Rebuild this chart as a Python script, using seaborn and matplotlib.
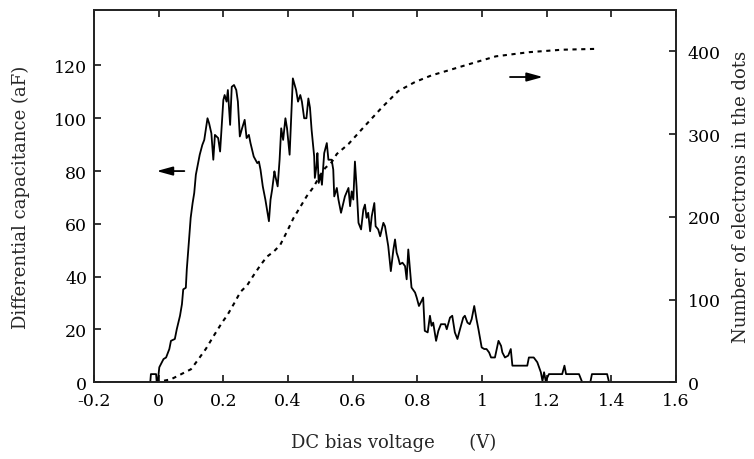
import numpy as np
import pandas as pd
import matplotlib
matplotlib.use("Agg")
import matplotlib.pyplot as plt
import seaborn as sns

# ---- data ----
cap_x = [-0.15, -0.026, -0.024, -0.008, -0.006, -0.003, 0.002, 0.015, 0.023, 0.033, 0.038, 0.050,
         0.056, 0.066, 0.072, 0.076, 0.084, 0.087, 0.091, 0.094, 0.099, 0.105, 0.110, 0.115,
         0.122, 0.127, 0.135, 0.141, 0.151, 0.156, 0.163, 0.169, 0.174, 0.184, 0.190, 0.195,
         0.200, 0.204, 0.210, 0.214, 0.221, 0.226, 0.233, 0.240, 0.245, 0.251, 0.258, 0.266,
         0.272, 0.279, 0.284, 0.294, 0.305, 0.310, 0.315, 0.322, 0.330, 0.341, 0.346, 0.351,
         0.358, 0.361, 0.368, 0.374, 0.379, 0.385, 0.392, 0.397, 0.405, 0.415, 0.425, 0.431,
         0.438, 0.443, 0.450, 0.457, 0.463, 0.468, 0.473, 0.481, 0.483, 0.488, 0.491, 0.495,
         0.501, 0.505, 0.512, 0.520, 0.525, 0.535, 0.540, 0.543, 0.551, 0.556, 0.564, 0.571,
         0.576, 0.587, 0.592, 0.597, 0.602, 0.607, 0.612, 0.618, 0.626, 0.633, 0.638, 0.643,
         0.648, 0.654, 0.659, 0.667, 0.671, 0.679, 0.685, 0.695, 0.700, 0.710, 0.718, 0.726,
         0.731, 0.736, 0.741, 0.746, 0.754, 0.762, 0.767, 0.772, 0.782, 0.793, 0.798, 0.805,
         0.813, 0.818, 0.823, 0.832, 0.839, 0.844, 0.849, 0.858, 0.865, 0.873, 0.886, 0.891,
         0.901, 0.908, 0.916, 0.924, 0.932, 0.942, 0.947, 0.955, 0.962, 0.968, 0.976, 0.983,
         0.989, 0.999, 1.007, 1.014, 1.022, 1.028, 1.040, 1.051, 1.059, 1.063, 1.071, 1.081,
         1.089, 1.094, 1.140, 1.145, 1.160, 1.171, 1.182, 1.187, 1.192, 1.197, 1.207, 1.248,
         1.255, 1.260, 1.300, 1.310, 1.335, 1.340, 1.387, 1.393]
cap_y = [0, 0, 3.1, 3.1, 0, 0, 5.7, 8.8, 9.4, 12.6, 15.7, 16.4,
         20.1, 25.2, 29.6, 35.2, 35.8, 42.8, 49.1, 54.1, 62.3, 67.9, 71.7, 78.6,
         83.0, 86.2, 89.9, 91.8, 100.0, 98.1, 94.3, 84.3, 93.7, 92.5, 87.4, 96.9,
         106.9, 108.8, 106.3, 110.7, 97.5, 111.9, 112.6, 110.7, 106.3, 93.1, 96.2, 99.4,
         92.5, 93.7, 90.6, 85.5, 83.0, 83.6, 80.5, 74.2, 69.2, 61.0, 69.2, 73.0,
         79.9, 78.0, 74.2, 84.3, 96.2, 91.8, 100.0, 96.2, 86.2, 115.1, 110.7, 106.3,
         108.8, 106.3, 100.0, 100.0, 107.5, 104.0, 95.6, 85.5, 77.4, 81.8, 86.8, 75.5,
         78.6, 74.8, 86.8, 90.6, 84.3, 84.3, 80.5, 70.4, 73.6, 69.2, 64.2, 67.9,
         70.4, 73.6, 66.7, 72.3, 69.2, 83.6, 74.2, 60.4, 57.9, 65.4, 67.3, 62.3,
         64.2, 57.2, 62.9, 67.9, 59.1, 57.9, 55.3, 60.4, 59.1, 51.6, 42.1, 50.3,
         54.1, 49.1, 47.2, 44.7, 45.3, 44.0, 39.0, 50.3, 35.9, 34.0, 32.1, 28.9,
         30.8, 32.1, 19.5, 18.9, 25.2, 21.4, 22.6, 15.7, 19.5, 22.0, 22.0, 20.1,
         24.5, 25.2, 18.9, 16.4, 20.1, 24.5, 25.2, 22.6, 22.0, 23.9, 28.9, 23.9,
         20.1, 13.2, 12.6, 12.6, 11.3, 9.4, 9.4, 15.7, 13.8, 11.3, 9.4, 10.1,
         12.6, 6.3, 6.3, 9.4, 9.4, 7.6, 3.8, 0.5, 3.8, 0.5, 3.1, 3.1,
         6.3, 3.1, 3.1, 0, 0, 3.1, 3.1, 0]

elec_x = [-0.01, 0.017, 0.038, 0.069, 0.100, 0.120, 0.146, 0.171, 0.197, 0.212, 0.233, 0.253,
          0.274, 0.294, 0.315, 0.335, 0.356, 0.376, 0.397, 0.417, 0.438, 0.458, 0.479, 0.499,
          0.515, 0.535, 0.551, 0.587, 0.638, 0.690, 0.741, 0.793, 0.844, 0.896, 0.947, 0.999,
          1.043, 1.145, 1.248, 1.351]
elec_y = [0, 2, 3.6, 9.7, 15.8, 26.3, 40.4, 56.6, 72.8, 80.9, 95.1, 109.3,
          117.4, 129.6, 141.7, 151.9, 158, 166.1, 182.3, 198.5, 212, 225, 236, 250,
          259, 266, 276, 288, 310, 332, 352, 363, 371, 377, 383, 389,
          394, 399, 402, 403]

x_ticks = [-0.2, 0, 0.2, 0.4, 0.6, 0.8, 1.0, 1.2, 1.4, 1.6]
x_tick_labels = ["-0.2", "0", "0.2", "0.4", "0.6", "0.8", "1", "1.2", "1.4", "1.6"]
left_ticks = [0, 20, 40, 60, 80, 100, 120]
right_ticks = [0, 100, 200, 300, 400]

# ---- style ----
sns.set_theme(style="ticks")
plt.rcParams["font.family"] = ["DejaVu Serif"]
plt.rcParams["axes.linewidth"] = 1.2
plt.rcParams["xtick.direction"] = "in"
plt.rcParams["ytick.direction"] = "in"

fig = plt.figure(figsize=(7.54, 4.6), dpi=100)
L, R, B, T = 94 / 754, 676 / 754, 1 - 383.3 / 460, 1 - 11 / 460
ax = fig.add_axes([L, B, R - L, T - B])

df_cap = pd.DataFrame({"V": cap_x, "C": cap_y})
df_el = pd.DataFrame({"V": elec_x, "N": elec_y})

sns.lineplot(data=df_cap, x="V", y="C", ax=ax, color="black", lw=1.3, sort=False,
             estimator=None)
ax.set_xlim(-0.2, 1.6)
ax.set_ylim(0, 141)
ax.set_xticks(x_ticks)
ax.set_xticklabels(x_tick_labels)
ax.set_yticks(left_ticks)
ax.tick_params(axis="both", labelsize=12.5, length=5, width=1.1, colors="black")
ax.tick_params(axis="x", pad=7, top=True)
ax.tick_params(axis="y", pad=5)
for s in ax.spines.values():
    s.set_color("black")
    s.set_linewidth(1.2)
ax.set_xlabel("DC bias voltage      (V)", fontsize=13, labelpad=17)
ax.xaxis.label.set_x(0.514)
ax.set_ylabel("Differential capacitance (aF)", fontsize=13, labelpad=17)

ax2 = ax.twinx()
sns.lineplot(data=df_el, x="V", y="N", ax=ax2, color="black", lw=1.5, sort=False,
             estimator=None, dashes=False)
ax2.lines[0].set_dashes([2.0, 2.2])
ax2.set_ylim(0, 450)
ax2.set_yticks(right_ticks)
ax2.tick_params(axis="y", labelsize=12.5, length=5, width=1.1, pad=8.5, colors="black")
ax2.set_ylabel("Number of electrons in the dots", fontsize=13, labelpad=8, rotation=90)
ax2.set_xlim(-0.2, 1.6)

# arrows indicating the relevant axis
ax.annotate("", xy=(-0.015, 80), xytext=(0.088, 80),
            arrowprops=dict(arrowstyle="-|>,head_length=0.8,head_width=0.22",
                            color="black", lw=1.3))
ax2.annotate("", xy=(1.197, 369), xytext=(1.078, 369),
             arrowprops=dict(arrowstyle="-|>,head_length=0.8,head_width=0.22",
                             color="black", lw=1.3))

fig.savefig("out.png", dpi=100)
